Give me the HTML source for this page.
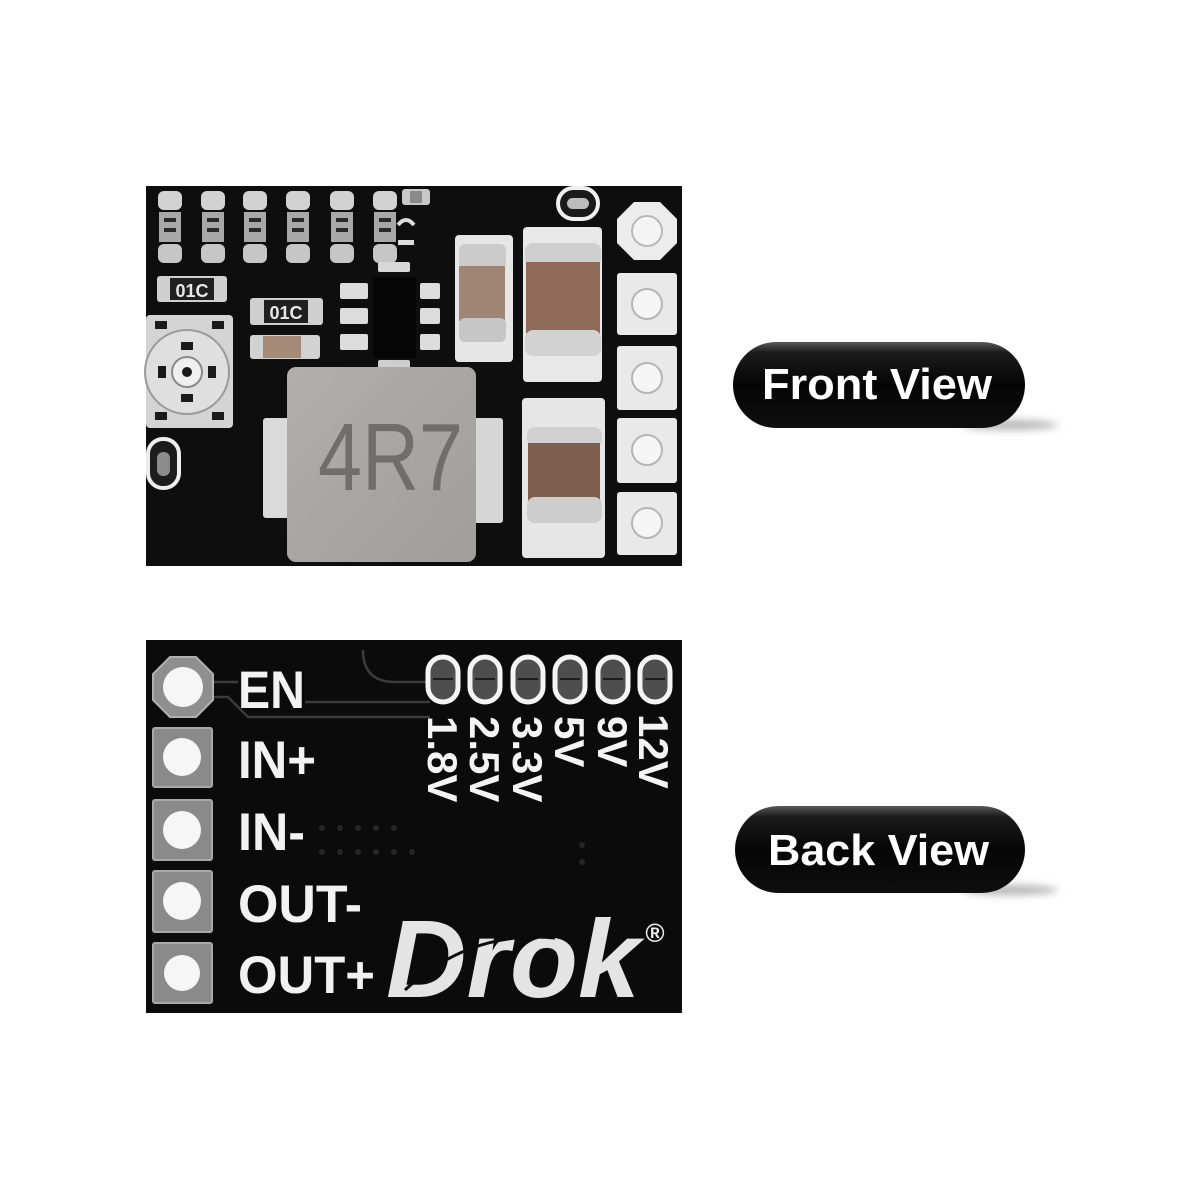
<!DOCTYPE html>
<html>
<head>
<meta charset="utf-8">
<style>
  html,body{margin:0;padding:0;background:#fff;}
  svg{display:block;}
  text{font-family:"Liberation Sans", Arial, sans-serif;}
</style>
</head>
<body>
<svg width="1200" height="1200" viewBox="0 0 1200 1200" xmlns="http://www.w3.org/2000/svg">
  <defs>
    <linearGradient id="pill" x1="0" y1="0" x2="0" y2="1">
      <stop offset="0" stop-color="#5a5a5a"/>
      <stop offset="0.12" stop-color="#1c1c1c"/>
      <stop offset="0.5" stop-color="#050505"/>
      <stop offset="1" stop-color="#0e0e0e"/>
    </linearGradient>
    <filter id="blur" x="-50%" y="-200%" width="200%" height="500%">
      <feGaussianBlur stdDeviation="4"/>
    </filter>
    <linearGradient id="ind" x1="0" y1="0" x2="1" y2="1">
      <stop offset="0" stop-color="#b2aeae"/>
      <stop offset="1" stop-color="#a19d9d"/>
    </linearGradient>
  </defs>

  <rect width="1200" height="1200" fill="#ffffff"/>

  <!-- ================= FRONT BOARD ================= -->
  <rect x="146" y="186" width="536" height="380" fill="#0e0e0e"/>

  <!-- top resistors row -->
  <g>
    <g fill="#d2d2d2">
      <rect x="158" y="191" width="24" height="19" rx="6"/>
      <rect x="201" y="191" width="24" height="19" rx="6"/>
      <rect x="243" y="191" width="24" height="19" rx="6"/>
      <rect x="286" y="191" width="24" height="19" rx="6"/>
      <rect x="330" y="191" width="24" height="19" rx="6"/>
      <rect x="373" y="191" width="24" height="19" rx="6"/>
    </g>
    <g fill="#a8a8a8">
      <rect x="159" y="212" width="22" height="30"/>
      <rect x="202" y="212" width="22" height="30"/>
      <rect x="244" y="212" width="22" height="30"/>
      <rect x="287" y="212" width="22" height="30"/>
      <rect x="331" y="212" width="22" height="30"/>
      <rect x="374" y="212" width="22" height="30"/>
    </g>
    <g fill="#2a2a2a">
      <rect x="164" y="218" width="12" height="4"/><rect x="164" y="228" width="12" height="4"/>
      <rect x="207" y="218" width="12" height="4"/><rect x="207" y="228" width="12" height="4"/>
      <rect x="249" y="218" width="12" height="4"/><rect x="249" y="228" width="12" height="4"/>
      <rect x="292" y="218" width="12" height="4"/><rect x="292" y="228" width="12" height="4"/>
      <rect x="336" y="218" width="12" height="4"/><rect x="336" y="228" width="12" height="4"/>
      <rect x="379" y="218" width="12" height="4"/><rect x="379" y="228" width="12" height="4"/>
    </g>
    <g fill="#c6c6c6">
      <rect x="158" y="244" width="24" height="19" rx="6"/>
      <rect x="201" y="244" width="24" height="19" rx="6"/>
      <rect x="243" y="244" width="24" height="19" rx="6"/>
      <rect x="286" y="244" width="24" height="19" rx="6"/>
      <rect x="330" y="244" width="24" height="19" rx="6"/>
      <rect x="373" y="244" width="24" height="19" rx="6"/>
    </g>
    <!-- small part top -->
    <rect x="402" y="189" width="28" height="16" rx="3" fill="#c8c8c8"/>
    <rect x="410" y="191" width="12" height="12" fill="#8a8a8a"/>
    <path d="M398 225 q8 -10 16 0" stroke="#dcdcdc" stroke-width="4" fill="none"/>
    <rect x="398" y="240" width="16" height="5" fill="#dcdcdc"/>
  </g>

  <!-- 01C resistor 1 -->
  <rect x="157" y="276" width="70" height="26" rx="3" fill="#cfcfcf"/>
  <rect x="170" y="278" width="44" height="22" fill="#202020"/>
  <text x="192" y="297" font-size="18" font-weight="bold" fill="#e8e8e8" text-anchor="middle">01C</text>
  <!-- 01C resistor 2 -->
  <rect x="250" y="298" width="73" height="27" rx="3" fill="#cfcfcf"/>
  <rect x="264" y="300" width="44" height="23" fill="#202020"/>
  <text x="286" y="319" font-size="18" font-weight="bold" fill="#e8e8e8" text-anchor="middle">01C</text>
  <!-- small cap -->
  <rect x="250" y="335" width="70" height="24" rx="3" fill="#d2d2d2"/>
  <rect x="263" y="336" width="38" height="22" fill="#a58a78"/>

  <!-- IC -->
  <rect x="378" y="262" width="32" height="10" rx="2" fill="#d8d8d8"/>
  <rect x="373" y="277" width="43" height="81" fill="#050505"/>
  <rect x="378" y="360" width="32" height="9" rx="2" fill="#cfcfcf"/>
  <g fill="#dcdcdc">
    <rect x="340" y="283" width="28" height="16" rx="2"/>
    <rect x="340" y="308" width="28" height="16" rx="2"/>
    <rect x="340" y="334" width="28" height="16" rx="2"/>
    <rect x="420" y="283" width="20" height="16" rx="2"/>
    <rect x="420" y="308" width="20" height="16" rx="2"/>
    <rect x="420" y="334" width="20" height="16" rx="2"/>
  </g>

  <!-- small capacitor C1 -->
  <rect x="455" y="235" width="58" height="127" rx="4" fill="#e6e6e6"/>
  <rect x="459" y="244" width="47" height="26" rx="6" fill="#cbcbcb"/>
  <rect x="459" y="266" width="46" height="55" fill="#a08474"/>
  <rect x="459" y="318" width="47" height="24" rx="6" fill="#c6c6c6"/>

  <!-- big capacitor -->
  <rect x="523" y="227" width="79" height="155" rx="4" fill="#e8e8e8"/>
  <rect x="525" y="243" width="76" height="24" rx="8" fill="#cfcfcf"/>
  <rect x="526" y="262" width="74" height="72" fill="#8f6a58"/>
  <rect x="525" y="330" width="76" height="26" rx="8" fill="#d2d2d2"/>

  <!-- lower capacitor -->
  <rect x="522" y="398" width="83" height="160" rx="4" fill="#e6e6e6"/>
  <rect x="527" y="427" width="75" height="20" rx="8" fill="#d0d0d0"/>
  <rect x="528" y="443" width="72" height="58" fill="#7e5f4f"/>
  <rect x="527" y="497" width="75" height="26" rx="8" fill="#cdcdcd"/>

  <!-- top oval -->
  <rect x="558" y="188" width="40" height="31" rx="15.5" fill="#1a1a1a" stroke="#f0f0f0" stroke-width="4"/>
  <rect x="567" y="198" width="22" height="11" rx="5.5" fill="#bdbdbd"/>

  <!-- right pads -->
  <polygon points="634,202 660,202 677,219 677,243 660,260 634,260 617,243 617,219" fill="#ececec"/>
  <circle cx="647" cy="231" r="15" fill="#f4f4f4" stroke="#b8b8b8" stroke-width="2"/>
  <g fill="#e9e9e9">
    <rect x="617" y="273" width="60" height="62" rx="3"/>
    <rect x="617" y="346" width="60" height="64" rx="3"/>
    <rect x="617" y="418" width="60" height="65" rx="3"/>
    <rect x="617" y="492" width="60" height="63" rx="3"/>
  </g>
  <g fill="#f5f5f5" stroke="#b5b5b5" stroke-width="2">
    <circle cx="647" cy="304" r="15"/>
    <circle cx="647" cy="378" r="15"/>
    <circle cx="647" cy="450" r="15"/>
    <circle cx="647" cy="523" r="15"/>
  </g>

  <!-- potentiometer -->
  <rect x="146" y="315" width="87" height="113" rx="4" fill="#d4d4d4"/>
  <circle cx="187" cy="372" r="42" fill="#dfdfdf" stroke="#9a9a9a" stroke-width="2"/>
  <g fill="#1a1a1a">
    <rect x="181" y="342" width="12" height="8"/>
    <rect x="181" y="394" width="12" height="8"/>
    <rect x="158" y="366" width="8" height="12"/>
    <rect x="208" y="366" width="8" height="12"/>
    <rect x="155" y="321" width="12" height="8"/>
    <rect x="212" y="321" width="12" height="8"/>
    <rect x="155" y="412" width="12" height="8"/>
    <rect x="212" y="412" width="12" height="8"/>
  </g>
  <circle cx="187" cy="372" r="15" fill="#efefef" stroke="#8a8a8a" stroke-width="2"/>
  <circle cx="187" cy="372" r="5" fill="#1a1a1a"/>

  <!-- left small oval -->
  <rect x="148" y="439" width="31" height="49" rx="15" fill="#1c1c1c" stroke="#eeeeee" stroke-width="4"/>
  <rect x="157" y="452" width="13" height="24" rx="6" fill="#8c8c8c"/>

  <!-- inductor -->
  <rect x="263" y="418" width="30" height="100" rx="3" fill="#dadada"/>
  <rect x="470" y="418" width="33" height="105" rx="3" fill="#d6d6d6"/>
  <rect x="287" y="367" width="189" height="195" rx="9" fill="url(#ind)"/>
  <text x="318" y="490" font-size="96" fill="#716d6d" textLength="145" lengthAdjust="spacingAndGlyphs">4R7</text>

  <!-- ================= BACK BOARD ================= -->
  <rect x="146" y="640" width="536" height="373" fill="#0b0b0b"/>

  <!-- traces -->
  <g stroke="#3b3b3b" stroke-width="2.5" fill="none">
    <path d="M213 682 H238"/>
    <path d="M305 702 H430"/>
    <path d="M213 697 H228 L248 717 H430"/>
    <path d="M363 650 Q363 682 395 682 H430"/>
  </g>

  <!-- pads -->
  <polygon points="170,657 196,657 213,674 213,700 196,717 170,717 153,700 153,674" fill="#8f8f8f" stroke="#b0b0b0" stroke-width="2"/>
  <circle cx="183" cy="687" r="20" fill="#f6f6f6"/>
  <g fill="#8a8a8a" stroke="#a9a9a9" stroke-width="2">
    <rect x="153" y="728" width="59" height="59" rx="2"/>
    <rect x="153" y="800" width="59" height="60" rx="2"/>
    <rect x="153" y="871" width="59" height="61" rx="2"/>
    <rect x="153" y="943" width="59" height="60" rx="2"/>
  </g>
  <g fill="#f6f6f6">
    <circle cx="182" cy="757" r="19"/>
    <circle cx="182" cy="830" r="19"/>
    <circle cx="182" cy="901" r="19"/>
    <circle cx="182" cy="973" r="18"/>
  </g>

  <!-- labels -->
  <g font-size="53" font-weight="bold" fill="#f2f2f2">
    <text x="238" y="708" textLength="67" lengthAdjust="spacingAndGlyphs">EN</text>
    <text x="238" y="778" textLength="78" lengthAdjust="spacingAndGlyphs">IN+</text>
    <text x="238" y="850" textLength="67" lengthAdjust="spacingAndGlyphs">IN-</text>
    <text x="238" y="922" textLength="124" lengthAdjust="spacingAndGlyphs">OUT-</text>
    <text x="238" y="993" textLength="137" lengthAdjust="spacingAndGlyphs">OUT+</text>
  </g>

  <!-- vias near IN- -->
  <g fill="#262626">
    <circle cx="322" cy="828" r="3"/><circle cx="340" cy="828" r="3"/><circle cx="358" cy="828" r="3"/><circle cx="376" cy="828" r="3"/><circle cx="394" cy="828" r="3"/>
    <circle cx="322" cy="852" r="3"/><circle cx="340" cy="852" r="3"/><circle cx="358" cy="852" r="3"/><circle cx="376" cy="852" r="3"/><circle cx="394" cy="852" r="3"/><circle cx="412" cy="852" r="3"/>
    <circle cx="582" cy="845" r="3"/><circle cx="582" cy="862" r="3"/>
  </g>

  <!-- jumper ovals -->
  <g fill="#4e4e4e" stroke="#f4f4f4" stroke-width="5">
    <rect x="428" y="657" width="30" height="45" rx="15"/>
    <rect x="470" y="657" width="30" height="45" rx="15"/>
    <rect x="513" y="657" width="30" height="45" rx="15"/>
    <rect x="555" y="657" width="30" height="45" rx="15"/>
    <rect x="598" y="657" width="30" height="45" rx="15"/>
    <rect x="640" y="657" width="30" height="45" rx="15"/>
  </g>
  <g stroke="#1e1e1e" stroke-width="2">
    <path d="M433 679 H453 M475 679 H495 M518 679 H538 M560 679 H580 M603 679 H623 M645 679 H665"/>
  </g>

  <!-- rotated voltage labels -->
  <g font-size="42" font-weight="bold" fill="#f4f4f4">
    <text transform="translate(428,716) rotate(90)">1.8V</text>
    <text transform="translate(470,716) rotate(90)">2.5V</text>
    <text transform="translate(513,716) rotate(90)">3.3V</text>
    <text transform="translate(555,716) rotate(90)">5V</text>
    <text transform="translate(598,716) rotate(90)">9V</text>
    <text transform="translate(639,714) rotate(90)">12V</text>
  </g>

  <!-- Drok logo -->
  <text x="386" y="997" font-size="110" font-weight="bold" font-style="italic" fill="#e4e4e4" textLength="254" lengthAdjust="spacingAndGlyphs">Drok</text>
  <path d="M405 990 Q470 930 555 938" stroke="#0b0b0b" stroke-width="3" fill="none"/>
  <text x="655" y="942" font-size="26" font-weight="bold" fill="#eeeeee" text-anchor="middle">®</text>

  <!-- ================= PILL LABELS ================= -->
  <ellipse cx="1010" cy="425" rx="48" ry="5" fill="#b5b5b5" filter="url(#blur)"/>
  <rect x="733" y="342" width="292" height="86" rx="43" fill="url(#pill)"/>
  <text x="762" y="399" font-size="44" font-weight="bold" fill="#ffffff" textLength="230" lengthAdjust="spacingAndGlyphs">Front View</text>

  <ellipse cx="1010" cy="890" rx="48" ry="5" fill="#b5b5b5" filter="url(#blur)"/>
  <rect x="735" y="806" width="290" height="87" rx="43.5" fill="url(#pill)"/>
  <text x="768" y="865" font-size="44" font-weight="bold" fill="#ffffff" textLength="221" lengthAdjust="spacingAndGlyphs">Back View</text>
</svg>
</body>
</html>
